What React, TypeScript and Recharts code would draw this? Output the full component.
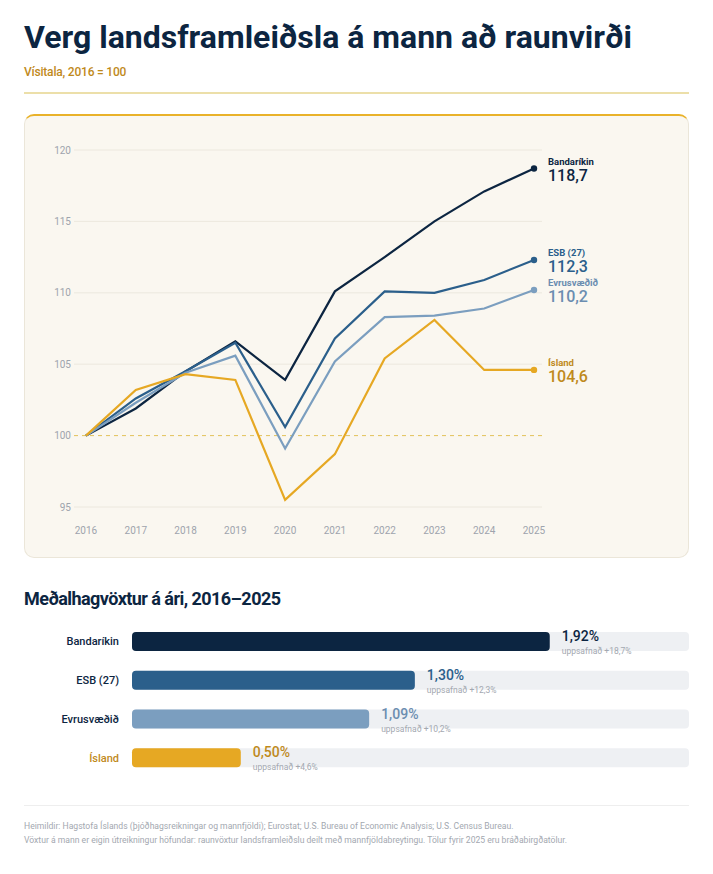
import React from 'react';
import {
  LineChart, Line, XAxis, YAxis, CartesianGrid, ReferenceLine, LabelList,
  BarChart, Bar, Cell,
} from 'recharts';

const years = [2016, 2017, 2018, 2019, 2020, 2021, 2022, 2023, 2024, 2025];
const usValues = [100, 101.9, 104.5, 106.6, 103.9, 110.1, 112.5, 115.0, 117.1, 118.7];
const esbValues = [100, 102.6, 104.5, 106.5, 100.6, 106.8, 110.1, 110.0, 110.9, 112.3];
const euroValues = [100, 102.3, 104.4, 105.6, 99.1, 105.2, 108.3, 108.4, 108.9, 110.2];
const icelandValues = [100, 103.2, 104.3, 103.9, 95.5, 98.7, 105.4, 108.1, 104.6, 104.6];
const yTicks = [95, 100, 105, 110, 115, 120];

const countries = ['Bandaríkin', 'ESB (27)', 'Evrusvæðið', 'Ísland'];
const avgGrowth = [1.92, 1.30, 1.09, 0.50];
const cumulative = [18.7, 12.3, 10.2, 4.6];

const NAVY = '#0c2541';
const BLUE = '#2b5f8b';
const LIGHTBLUE = '#7b9ebf';
const GOLD = '#e6a823';
const GOLD_TEXT = '#bf8a1c';
const EURO_TEXT = '#6b8db0';
const GRAY_TEXT = '#a3a8b0';
const FONT = 'Roboto, Inter, sans-serif';

const lineData = years.map((y, i) => ({
  year: String(y),
  us: usValues[i],
  esb: esbValues[i],
  euro: euroValues[i],
  isl: icelandValues[i],
}));

const seriesStyle = [
  { key: 'us', name: countries[0], color: NAVY, text: NAVY },
  { key: 'esb', name: countries[1], color: BLUE, text: BLUE },
  { key: 'euro', name: countries[2], color: LIGHTBLUE, text: EURO_TEXT },
  { key: 'isl', name: countries[3], color: GOLD, text: GOLD_TEXT },
];

const barColors = [NAVY, BLUE, LIGHTBLUE, GOLD];
const barTextColors = [NAVY, BLUE, EURO_TEXT, GOLD_TEXT];
const labelColors = [NAVY, NAVY, NAVY, GOLD_TEXT];

const barData = countries.map((c, i) => ({
  name: c,
  growth: avgGrowth[i],
  cum: cumulative[i],
}));

const fmt = (v: number, d: number) => v.toFixed(d).replace('.', ',');
const last = years.length - 1;

function makeEndDot(color: string) {
  return (props: any) => {
    const { cx, cy, index } = props;
    if (index !== last) return <g key={`d-${index}`} />;
    return <circle key={`d-${index}`} cx={cx} cy={cy} r={3.2} fill={color} stroke="none" />;
  };
}

function makeEndLabel(name: string, color: string) {
  return (props: any) => {
    const { x, y, value, index } = props;
    if (index !== last) return null;
    return (
      <g>
        <text x={x + 14} y={y - 3.5} fontSize={9.5} fontWeight={700} fill={color} fontFamily={FONT}>{name}</text>
        <text x={x + 14} y={y + 12.5} fontSize={16} fontWeight={500} fill={color} fontFamily={FONT}>{fmt(value, 1)}</text>
      </g>
    );
  };
}

function CategoryTick(props: any) {
  const { x, y, payload, index } = props;
  const i = countries.indexOf(payload.value);
  return (
    <text x={x} y={y} dy="0.355em" textAnchor="end" fontSize={11} fontWeight={500} fill={labelColors[i >= 0 ? i : index]} fontFamily={FONT}>
      {payload.value}
    </text>
  );
}

function BarValueLabel(props: any) {
  const { x, y, width, index } = props;
  const tx = x + width + 12;
  return (
    <g>
      <text x={tx} y={y + 9} fontSize={14} fontWeight={500} fill={barTextColors[index]} fontFamily={FONT}>
        {fmt(avgGrowth[index], 2)}%
      </text>
      <text x={tx} y={y + 22} fontSize={8.5} fill={GRAY_TEXT} fontFamily={FONT}>
        uppsafnað +{fmt(cumulative[index], 1)}%
      </text>
    </g>
  );
}

export default function App() {
  return (
    <div style={{ position: 'relative', width: 713, height: 874, margin: -8, background: '#ffffff', fontFamily: FONT, overflow: 'hidden' }}>
      <div style={{ position: 'absolute', left: 24, top: 17, fontSize: 32, fontWeight: 700, color: NAVY, letterSpacing: 0, whiteSpace: 'nowrap', lineHeight: '40px' }}>
        Verg landsframleiðsla á mann að raunvirði
      </div>
      <div style={{ position: 'absolute', left: 24, top: 64, fontSize: 12, fontWeight: 500, color: GOLD_TEXT, letterSpacing: -0.2, lineHeight: '16px' }}>
        Vísitala, 2016 = 100
      </div>
      <div style={{ position: 'absolute', left: 24, top: 92, width: 665, height: 1.5, background: '#ecdfa9' }} />

      <div style={{ position: 'absolute', left: 24, top: 114, width: 665, height: 444, boxSizing: 'border-box', background: '#faf7f0', border: '1px solid #ebe6d9', borderTop: '2px solid #e9b22a', borderRadius: 10 }} />

      <div style={{ position: 'absolute', left: 24, top: 114 }}>
        <LineChart width={665} height={444} data={lineData} margin={{ top: 36, right: 147, bottom: 21, left: 0 }}>
          <CartesianGrid vertical={false} stroke="#ece8de" horizontalValues={[95, 105, 110, 115, 120]} />
          <XAxis dataKey="year" axisLine={false} tickLine={false} tickSize={0} tickMargin={20} height={30}
            padding={{ left: 12, right: 8 }} tick={{ fontSize: 10, fill: '#9ea4ad', fontFamily: FONT }} interval={0} />
          <YAxis type="number" domain={[95, 120]} ticks={yTicks} axisLine={false} tickLine={false} tickSize={0} tickMargin={3}
            width={50} tick={{ fontSize: 10, fill: '#9ea4ad', fontFamily: FONT }} />
          <ReferenceLine y={100} stroke="#e2c25a" strokeDasharray="4 4" strokeWidth={1} />
          {seriesStyle.map((s) => (
            <Line key={s.key} type="linear" dataKey={s.key} stroke={s.color} strokeWidth={2.2}
              dot={makeEndDot(s.color)} activeDot={false} isAnimationActive={false}>
              <LabelList dataKey={s.key} content={makeEndLabel(s.name, s.text)} />
            </Line>
          ))}
        </LineChart>
      </div>

      <div style={{ position: 'absolute', left: 24, top: 587, fontSize: 18, fontWeight: 700, color: NAVY, letterSpacing: -0.55, whiteSpace: 'nowrap', lineHeight: '24px' }}>
        Meðalhagvöxtur á ári, 2016–2025
      </div>

      <div style={{ position: 'absolute', left: 0, top: 612 }}>
        <BarChart width={713} height={175} data={barData} layout="vertical" margin={{ top: 10, right: 24, bottom: 10, left: 0 }} barSize={19}>
          <XAxis type="number" domain={[0, 2.56]} hide />
          <YAxis type="category" dataKey="name" width={132} axisLine={false} tickLine={false} tickSize={0} tickMargin={13} tick={<CategoryTick />} />
          <Bar dataKey="growth" radius={4} background={{ fill: '#eef0f3', radius: 4 }} isAnimationActive={false}>
            {barData.map((d, i) => (
              <Cell key={d.name} fill={barColors[i]} />
            ))}
            <LabelList dataKey="growth" content={<BarValueLabel />} />
          </Bar>
        </BarChart>
      </div>

      <div style={{ position: 'absolute', left: 24, top: 805, width: 665, height: 1, background: '#eeeeee' }} />
      <div style={{ position: 'absolute', left: 24, top: 819, fontSize: 8.6, color: GRAY_TEXT, lineHeight: '14px', whiteSpace: 'nowrap' }}>
        <div>Heimildir: Hagstofa Íslands (þjóðhagsreikningar og mannfjöldi); Eurostat; U.S. Bureau of Economic Analysis; U.S. Census Bureau.</div>
        <div>Vöxtur á mann er eigin útreikningur höfundar: raunvöxtur landsframleiðslu deilt með mannfjöldabreytingu. Tölur fyrir 2025 eru bráðabirgðatölur.</div>
      </div>
    </div>
  );
}
